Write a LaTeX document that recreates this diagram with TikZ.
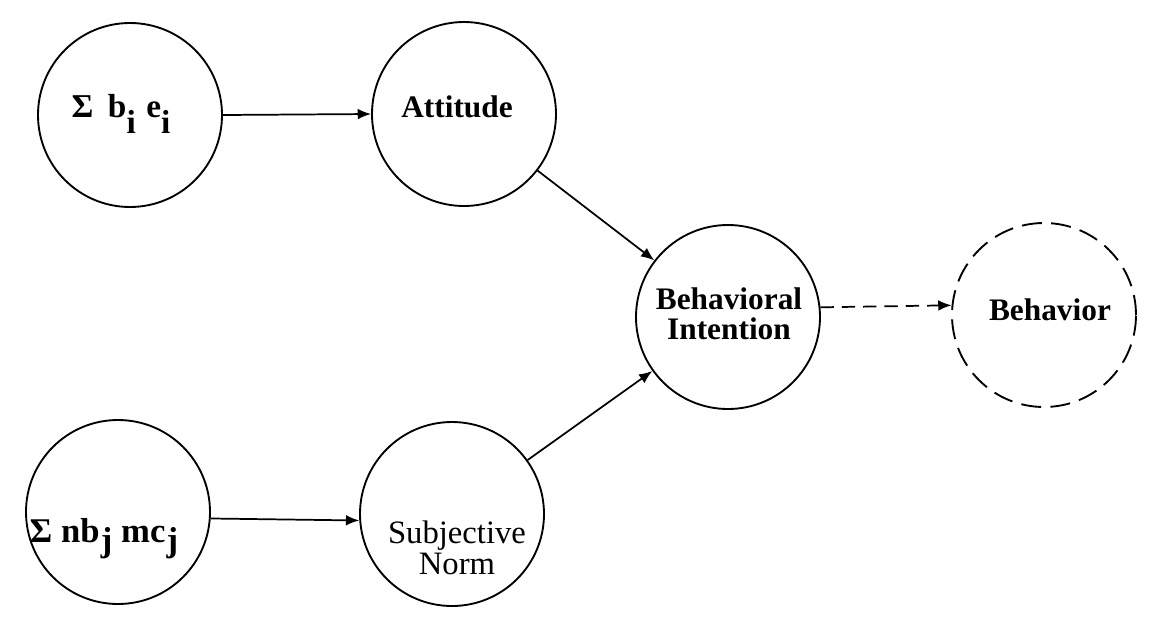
\documentclass[tikz,border=0pt]{standalone}
\usepackage{fontspec}
\setmainfont{Liberation Serif}
\usetikzlibrary{arrows.meta}
\newcommand{\lowsub}[2]{\raisebox{-#1}{#2}}
\begin{document}
\begin{tikzpicture}[x=0.75pt,y=-0.75pt,
  circ/.style={circle,draw,line width=1.4pt,minimum size=138pt,inner sep=0pt},
  dcirc/.style={circ,dash pattern=on 15pt off 7pt},
  word/.style={font=\fontsize{23.5}{22.5}\selectfont\bfseries,align=center,inner sep=0pt},
  rword/.style={font=\fontsize{24.5}{23}\selectfont,align=center,inner sep=0pt},
  formula/.style={font=\fontsize{25}{25}\selectfont\bfseries,inner sep=0pt,anchor=base},
  arr/.style={line width=1.3pt,-{Latex[length=10pt,width=8pt]}},
  darr/.style={arr,dash pattern=on 10pt off 6pt}]
\useasboundingbox (0,0) rectangle (1154,626);
% circles
\node[circ] (s1) at (130,115) {};
\node[circ] (att) at (464,114) {};
\node[circ] (s2) at (118,512) {};
\node[circ] (sn) at (452,514) {};
\node[circ] (bi) at (728,317) {};
\node[dcirc] (beh) at (1044,315) {};
% texts
\node[formula] (t1) at (121,117) {Σ\hspace{11pt}b\lowsub{12pt}{i}\hspace{8pt}e\lowsub{12pt}{i}};
\node[word,anchor=base] (t2) at (457,117) {Attitude};
\node[formula,font=\fontsize{26}{26}\selectfont\bfseries] (t3) at (104,542) {Σ nb\hspace{1pt}\lowsub{7pt}{j} mc\hspace{1pt}\lowsub{7pt}{j}};
\node[rword] (t4) at (457,548) {Subjective\\Norm};
\node[word] (t5) at (729,314) {Behavioral\\Intention};
\node[word,anchor=base] (t6) at (1050,320) {Behavior};
% connectors
\draw[arr] (s1.east) -- (att.west);
\draw[arr] (s2.-4) -- (sn.184);
\draw[arr] (att) -- (bi);
\draw[arr] (sn) -- (bi);
\draw[darr] (bi.6) -- (beh.174);
\end{tikzpicture}
\end{document}
